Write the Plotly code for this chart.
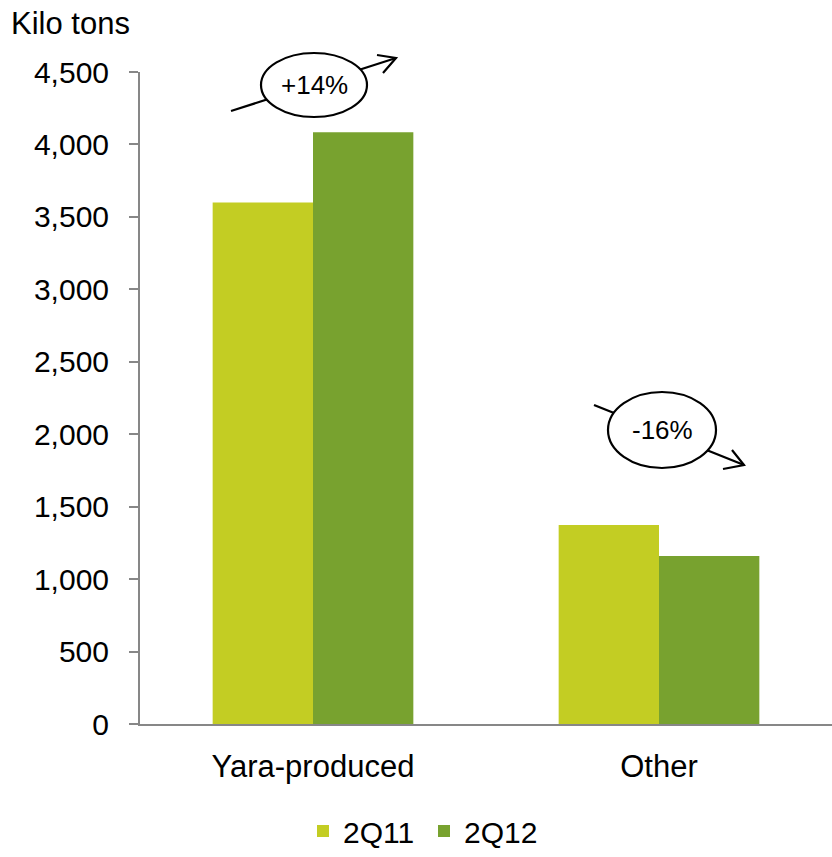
import plotly.graph_objects as go

categories = ["Yara-produced", "Other"]
series_names = ["2Q11", "2Q12"]
values_2q11 = [3600, 1373]
values_2q12 = [4085, 1160]
colors = ["#C3CD23", "#78A22F"]
y_ticks = [0, 500, 1000, 1500, 2000, 2500, 3000, 3500, 4000, 4500]
change_labels = ["+14%", "-16%"]

W, H = 832, 857
L, R, T, B = 140, 0, 72, 133
PW = W - L - R
PH = H - T - B


def px(x):
    return (x - L) / PW


def py(y):
    return (H - B - y) / PH


FONT = "Liberation Sans, Arial, sans-serif"

fig = go.Figure()
for name, vals, col in zip(series_names, [values_2q11, values_2q12], colors):
    fig.add_trace(go.Bar(x=categories, y=vals, name=name,
                         marker=dict(color=col, line=dict(width=0))))

shapes = []
annotations = []

# callout geometry in pixel space: (line start, tip, ellipse center, rx, ry, arm1, arm2)
callouts = [
    ((231, 111), (396, 58), (314, 85), 53, 32, (377, 55), (383, 73)),
    ((594, 405), (744, 465), (662, 430), 54, 38, (723, 469), (732, 450)),
]
for (s, t, c, rx, ry, a1, a2), label in zip(callouts, change_labels):
    shapes.append(dict(type="line", xref="paper", yref="paper",
                       x0=px(s[0]), y0=py(s[1]), x1=px(t[0]), y1=py(t[1]),
                       line=dict(color="black", width=2.2)))
    shapes.append(dict(type="path", xref="paper", yref="paper",
                       path=f"M{px(a1[0])},{py(a1[1])} L{px(t[0])},{py(t[1])} L{px(a2[0])},{py(a2[1])}",
                       line=dict(color="black", width=2.2)))
    shapes.append(dict(type="circle", xref="paper", yref="paper",
                       x0=px(c[0] - rx), x1=px(c[0] + rx),
                       y0=py(c[1] + ry), y1=py(c[1] - ry),
                       fillcolor="white", line=dict(color="black", width=2.2)))
    annotations.append(dict(xref="paper", yref="paper", x=px(c[0]), y=py(c[1]),
                            text=label, showarrow=False,
                            font=dict(size=26, color="black", family=FONT),
                            xanchor="center", yanchor="middle"))

annotations.append(dict(xref="paper", yref="paper", x=px(9), y=py(23),
                        text="Kilo tons", showarrow=False,
                        font=dict(size=31, color="black", family=FONT),
                        xanchor="left", yanchor="middle"))

fig.update_layout(
    width=W, height=H,
    margin=dict(l=L, r=R, t=T, b=B, pad=0, autoexpand=False),
    plot_bgcolor="white", paper_bgcolor="white",
    barmode="group", bargap=0.42, bargroupgap=0,
    font=dict(family=FONT, size=30, color="black"),
    showlegend=True,
    legend=dict(orientation="h", x=px(303), y=py(857), xanchor="left", yanchor="bottom",
                font=dict(size=30, family=FONT), itemclick=False, borderwidth=0,
                entrywidth=76, entrywidthmode="pixels", tracegroupgap=0),
    shapes=shapes, annotations=annotations,
)
fig.update_yaxes(range=[0, 4500], tickvals=y_ticks, tickformat=",d",
                 showgrid=False, zeroline=False,
                 showline=True, linecolor="#878787", linewidth=2,
                 ticks="outside", ticklen=9, tickcolor="#878787", tickwidth=2,
                 ticklabelstandoff=14, tickfont=dict(size=30))
fig.update_xaxes(showgrid=False, showline=True, linecolor="#878787", linewidth=2,
                 ticks="", tickfont=dict(size=31), ticklabelstandoff=14)

fig.write_html("out.html", config={"displayModeBar": False},
               post_script="document.body.style.margin='0';document.body.style.overflow='hidden';")
